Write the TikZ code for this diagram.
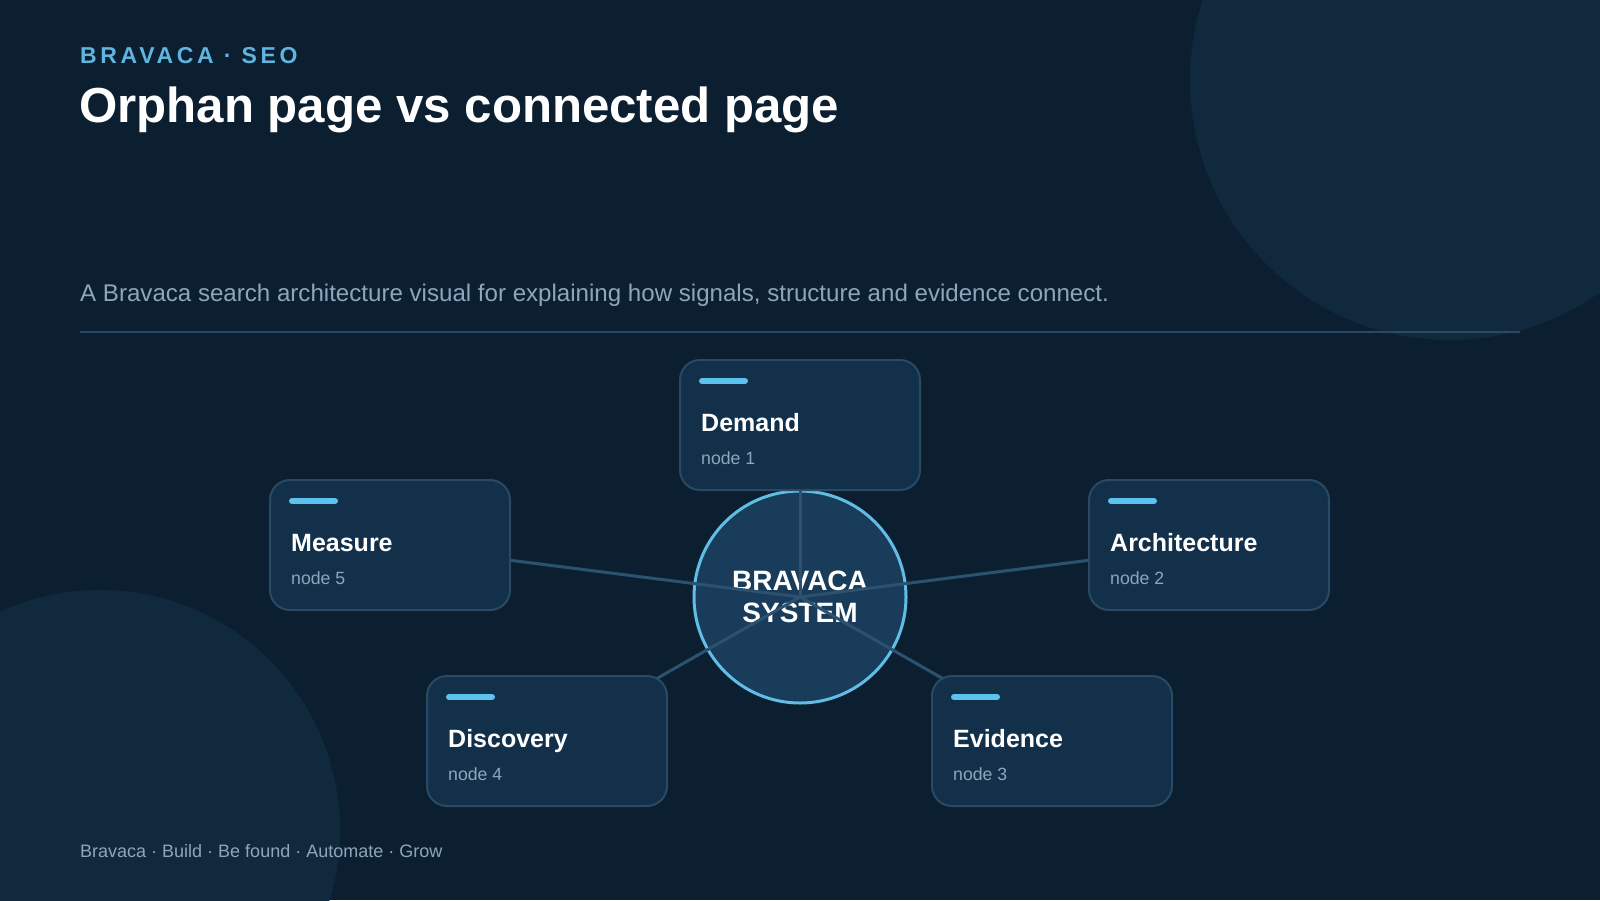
\documentclass[tikz,border=0pt]{standalone}
\usepackage{fontspec}
\setmainfont{Liberation Sans}
\newfontfamily\kickerfont{Liberation Sans}[LetterSpace=16]
\usepackage{tikz}
\usetikzlibrary{positioning,calc}
\pgfdeclarelayer{bg}
\pgfdeclarelayer{hub}
\pgfdeclarelayer{links}
\pgfsetlayers{bg,hub,links,main}
\usepackage{xcolor}
\definecolor{bgdark}{HTML}{0B1F30}
\definecolor{bgblob}{HTML}{10293D}
\definecolor{cardfill}{HTML}{13304A}
\definecolor{cardline}{HTML}{2A4A64}
\definecolor{hubfill}{HTML}{183C5A}
\definecolor{hubline}{HTML}{62BDE6}
\definecolor{accent}{HTML}{5EC2EE}
\definecolor{kicker}{HTML}{5FB4E0}
\definecolor{muted}{HTML}{8FA6BA}
\definecolor{linkline}{HTML}{2D5270}
\tikzset{
  card/.style={draw=cardline, line width=2pt, fill=cardfill, rounded corners=20pt,
    minimum width=240pt, minimum height=130pt, inner sep=0pt},
  cardtitle/.style={anchor=base west, inner sep=0pt, text=white,
    font=\bfseries\fontsize{25}{29}\selectfont},
  cardsub/.style={anchor=base west, inner sep=0pt, text=muted,
    font=\fontsize{17.7}{21}\selectfont},
  link/.style={draw=linkline, line width=3pt},
}

\begin{document}
\begin{tikzpicture}[x=1pt, y=-1pt]
    % page
    \useasboundingbox (0,0) rectangle (1600,900);
    \begin{pgfonlayer}{bg}
        \fill[bgdark] (0,0) rectangle (1600,900);
        \begin{scope}
            \clip (0,0) rectangle (1600,900);
            \fill[bgblob] (1450,80) circle (260pt);
            \fill[bgblob] (100,830) circle (240pt);
        \end{scope}
    \end{pgfonlayer}
    % header
    \node[anchor=base west, inner sep=0pt, text=kicker, font=\kickerfont\bfseries\fontsize{23}{28}\selectfont]
        (kicker) at (80,63) {BRAVACA · SEO};
    \node[anchor=base west, inner sep=0pt, text=white, font=\bfseries\fontsize{49.2}{60}\selectfont]
        (title) at (79,122) {Orphan page vs connected page};
    \node[anchor=base west, inner sep=0pt, text=muted, font=\fontsize{24.1}{29}\selectfont]
        (lede) at (80,301) {A Bravaca search architecture visual for explaining how signals, structure and evidence connect.};
    \draw[cardline, line width=2pt] (80,332) -- (1520,332);
    % hub
    \begin{pgfonlayer}{hub}
        \node[circle, fill=hubfill, draw=hubline, line width=3pt, minimum size=212pt,
            text=white, align=center, font=\bfseries\fontsize{28}{32}\selectfont]
            (hub) at (800,597) {BRAVACA\\SYSTEM};
    \end{pgfonlayer}
    % cards
    \foreach \name/\cx/\cy/\head/\num in {demand/800/425/Demand/1, architecture/1209/545/Architecture/2,
        evidence/1052/741/Evidence/3, discovery/547/741/Discovery/4, measure/390/545/Measure/5} {
        \node[card] (\name) at (\cx,\cy) {};
        \draw[accent, line width=6pt, line cap=round] ($(\name.north west)+(23,22)$) -- ($(\name.north west)+(66,22)$);
        \node[cardtitle] (\name-head) at ($(\name.north west)+(22,72)$) {\head};
        \node[cardsub] (\name-sub) at ($(\name.north west)+(22,105)$) {node \num};
        \begin{pgfonlayer}{links}
            \draw[link] (hub.center) -- (\name.center);
        \end{pgfonlayer}
    }
    % footer
    \node[anchor=base west, inner sep=0pt, text=muted, font=\fontsize{18}{22}\selectfont]
        (footer) at (80,857) {Bravaca · Build · Be found · Automate · Grow};
\end{tikzpicture}
\end{document}
